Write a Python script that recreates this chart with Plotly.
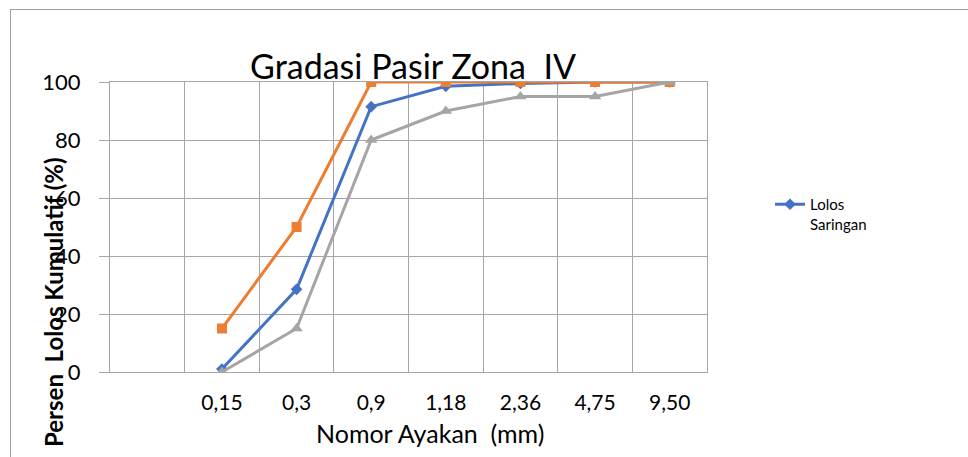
import plotly.graph_objects as go

categories = [" ", "0,15", "0,3", "0,9", "1,18", "2,36", "4,75", "9,50"]
sieves = ["0,15", "0,3", "0,9", "1,18", "2,36", "4,75", "9,50"]
lolos_saringan = [1, 28.5, 91.5, 98.5, 99.5, 100, 100]
batas_atas = [15, 50, 100, 100, 100, 100, 100]
batas_bawah = [0, 15, 80, 90, 95, 95, 100]
y_ticks = [0, 20, 40, 60, 80, 100]

FONT = "Lato"
GRID = "#a6a6a6"

# plot area in pixels
L, R, T, B = 110, 707, 82, 372
W, H = 968, 457
PW, PH = R - L, B - T


def px(x):
    return (x - L) / PW


def py(y):
    return (B - y) / PH


fig = go.Figure()
fig.add_trace(go.Scatter(
    x=sieves, y=lolos_saringan, mode="lines+markers", name="Lolos<br>Saringan",
    line=dict(color="#4472C4", width=3),
    marker=dict(symbol="diamond", size=9, color="#4472C4"),
))
fig.add_trace(go.Scatter(
    x=sieves, y=batas_atas, mode="lines+markers", name="Batas Atas", showlegend=False,
    line=dict(color="#ED7D31", width=3),
    marker=dict(symbol="square", size=10, color="#ED7D31"),
))
fig.add_trace(go.Scatter(
    x=sieves, y=batas_bawah, mode="lines+markers", name="Batas Bawah", showlegend=False,
    line=dict(color="#A5A5A5", width=3),
    marker=dict(symbol="triangle-up", size=11, color="#A5A5A5"),
))

fig.update_layout(
    width=W, height=H,
    margin=dict(l=L, r=W - R, t=T, b=H - B, pad=0),
    paper_bgcolor="white", plot_bgcolor="white",
    font=dict(family=FONT, color="black"),
    title=dict(text="Gradasi Pasir Zona  IV", font=dict(size=34, family=FONT, color="black"),
               x=px(413), xref="paper", xanchor="center",
               y=1 - 67 / H, yref="container", yanchor="middle"),
    xaxis=dict(type="category", categoryorder="array", categoryarray=categories,
               range=[-0.5, len(categories) - 0.5], tickson="boundaries",
               showgrid=True, gridcolor=GRID, gridwidth=1,
               showline=True, linecolor=GRID, mirror=True, ticks="",
               tickfont=dict(size=21, family=FONT, color="black"),
               ticklabelstandoff=12, zeroline=False, fixedrange=True),
    yaxis=dict(range=[0, 100], tickvals=y_ticks, showgrid=True, gridcolor=GRID, gridwidth=1,
               showline=True, linecolor=GRID, mirror=True,
               ticks="outside", ticklen=10, tickcolor=GRID,
               tickfont=dict(size=22, family=FONT, color="black"),
               ticklabelstandoff=14, zeroline=False, fixedrange=True),
    showlegend=True,
    legend=dict(x=px(770), y=py(188), xanchor="left", yanchor="top", valign="top",
                font=dict(size=15, family=FONT, color="black"), bgcolor="rgba(0,0,0,0)"),
    annotations=[
        dict(text="Nomor Ayakan  (mm)", xref="paper", yref="paper", x=px(430), y=py(433),
             xanchor="center", yanchor="middle", showarrow=False,
             font=dict(size=25, family=FONT, color="black")),
        dict(text="<b>Persen  Lolos Kumulatif (%)</b>", xref="paper", yref="paper",
             x=px(53), y=py(302), xanchor="center", yanchor="middle", textangle=-90,
             showarrow=False, font=dict(size=24, family=FONT, color="black")),
    ],
    shapes=[
        dict(type="line", xref="paper", yref="paper", x0=px(10), x1=px(1000), y0=py(9.5), y1=py(9.5),
             line=dict(color="#a0a0a0", width=1)),
        dict(type="line", xref="paper", yref="paper", x0=px(10.5), x1=px(10.5), y0=py(9.5), y1=py(500),
             line=dict(color="#a0a0a0", width=1)),
    ],
)

fig.write_html("out.html", config={"displayModeBar": False},
               post_script="document.body.style.margin='0';document.body.style.overflow='hidden';")
